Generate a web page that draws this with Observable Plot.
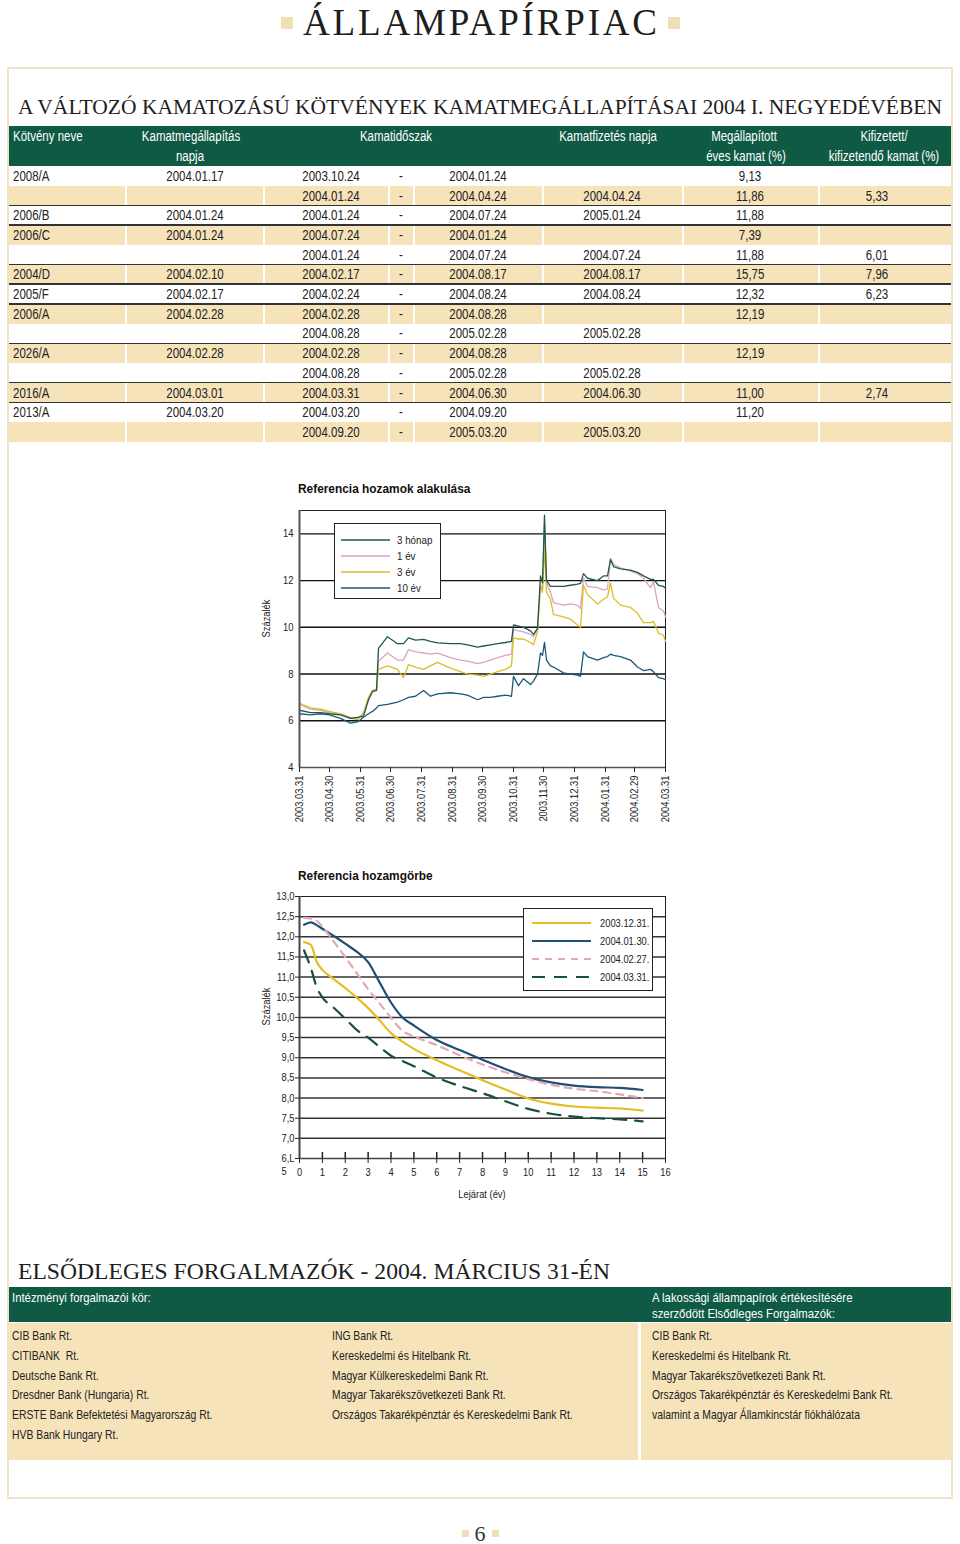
<!DOCTYPE html>
<html><head><meta charset="utf-8">
<script src="https://cdn.jsdelivr.net/npm/d3@7"></script>
<script src="https://cdn.jsdelivr.net/npm/@observablehq/plot@0.6"></script>
<style>
html,body{margin:0;padding:0;background:#fff;}
body{width:960px;height:1544px;position:relative;overflow:hidden;font-family:"Liberation Sans",Arial,sans-serif;}
.abs{position:absolute;white-space:pre;}
</style></head><body>
<script>
// ---------------- DATA ----------------
const pageTitle = "ÁLLAMPAPÍRPIAC";
const tableTitle = "A VÁLTOZÓ KAMATOZÁSÚ KÖTVÉNYEK KAMATMEGÁLLAPÍTÁSAI 2004 I. NEGYEDÉVÉBEN";
const headerRow1 = ["Kötvény neve","Kamatmegállapítás","Kamatidőszak","Kamatfizetés napja","Megállapított","Kifizetett/"];
const headerRow2 = ["napja","éves kamat (%)","kifizetendő kamat (%)"];
const bondNames   = ["2008/A","","2006/B","2006/C","","2004/D","2005/F","2006/A","","2026/A","","2016/A","2013/A",""];
const fixingDates = ["2004.01.17","","2004.01.24","2004.01.24","","2004.02.10","2004.02.17","2004.02.28","","2004.02.28","","2004.03.01","2004.03.20",""];
const periodStart = ["2003.10.24","2004.01.24","2004.01.24","2004.07.24","2004.01.24","2004.02.17","2004.02.24","2004.02.28","2004.08.28","2004.02.28","2004.08.28","2004.03.31","2004.03.20","2004.09.20"];
const periodEnd   = ["2004.01.24","2004.04.24","2004.07.24","2004.01.24","2004.07.24","2004.08.17","2004.08.24","2004.08.28","2005.02.28","2004.08.28","2005.02.28","2004.06.30","2004.09.20","2005.03.20"];
const paymentDates= ["","2004.04.24","2005.01.24","","2004.07.24","2004.08.17","2004.08.24","","2005.02.28","","2005.02.28","2004.06.30","","2005.03.20"];
const annualRates = ["9,13","11,86","11,88","7,39","11,88","15,75","12,32","12,19","","12,19","","11,00","11,20",""];
const paidRates   = ["","5,33","","","6,01","7,96","6,23","","","","","2,74","",""];

// Chart 1: Referencia hozamok alakulása
const chart1Title = "Referencia hozamok alakulása";
const series1Names = ["3 hónap","1 év","3 év","10 év"];
const dates1 = ["2003-03-31","2003-04-11","2003-04-21","2003-04-30","2003-05-11","2003-05-21","2003-05-28","2003-06-03","2003-06-08","2003-06-12","2003-06-16","2003-06-18","2003-06-27","2003-07-07","2003-07-13","2003-07-18","2003-07-25","2003-08-02","2003-08-09","2003-08-16","2003-08-29","2003-09-08","2003-09-15","2003-09-25","2003-10-01","2003-10-08","2003-10-15","2003-10-23","2003-10-29","2003-10-31","2003-11-05","2003-11-10","2003-11-17","2003-11-20","2003-11-24","2003-11-27","2003-11-29","2003-12-01","2003-12-03","2003-12-07","2003-12-10","2003-12-20","2003-12-27","2004-01-03","2004-01-06","2004-01-09","2004-01-13","2004-01-23","2004-01-29","2004-02-02","2004-02-05","2004-02-08","2004-02-15","2004-02-25","2004-03-03","2004-03-09","2004-03-16","2004-03-19","2004-03-24","2004-03-29","2004-03-31"];
const m3  = [6.45,6.35,6.35,6.3,6.25,6.1,6.15,6.2,6.9,7.25,7.3,9.1,9.6,9.3,9.3,9.55,9.45,9.48,9.4,9.33,9.3,9.3,9.25,9.15,9.2,9.25,9.3,9.35,9.4,10.1,10.05,10.0,9.85,9.7,9.95,12.2,11.9,14.8,12.0,11.75,11.75,11.75,11.8,11.85,11.88,12.3,12.1,12.0,12.2,12.2,12.9,12.6,12.5,12.45,12.35,12.2,12.05,12.05,11.8,11.75,11.67];
const y1  = [6.7,6.5,6.45,6.35,6.3,6.15,6.1,6.3,6.95,7.3,7.35,8.55,8.9,8.6,8.6,9.05,8.95,8.9,8.85,8.9,8.7,8.6,8.55,8.45,8.5,8.6,8.7,8.8,8.85,9.9,9.85,9.8,9.7,9.6,9.9,11.8,11.5,14.5,11.9,11.5,11.05,10.95,11.0,10.95,10.8,12.1,11.75,11.7,11.6,11.65,12.95,12.7,12.55,12.4,12.3,12.1,11.7,11.95,10.85,10.7,10.45];
const y3  = [6.75,6.55,6.5,6.4,6.3,6.1,6.05,6.35,7.0,7.3,7.3,8.2,8.35,8.2,7.85,8.4,8.3,8.2,8.35,8.5,8.25,8.1,8.0,7.95,7.9,8.0,8.1,8.2,8.35,9.55,9.5,9.5,9.35,9.25,9.8,11.8,11.6,13.4,11.5,11.2,10.55,10.45,10.35,10.1,10.0,11.8,11.4,11.0,11.2,11.3,11.9,11.25,10.95,10.85,10.6,10.2,10.2,10.25,9.75,9.65,9.4];
const y10 = [6.3,6.25,6.3,6.25,6.1,5.9,5.95,6.15,6.3,6.4,6.55,6.65,6.7,6.8,6.9,7.0,7.05,7.3,7.05,7.15,7.2,7.15,7.1,6.9,7.0,7.0,7.05,7.1,7.05,7.9,7.5,7.8,7.55,7.7,8.0,8.9,8.8,9.35,8.6,8.35,8.3,8.05,8.0,7.95,7.9,8.95,8.75,8.6,8.7,8.75,8.85,8.8,8.75,8.6,8.3,8.15,8.2,8.1,7.85,7.8,7.75];
const monthEnds = ["2003.03.31","2003.04.30","2003.05.31","2003.06.30","2003.07.31","2003.08.31","2003.09.30","2003.10.31","2003.11.30","2003.12.31","2004.01.31","2004.02.29","2004.03.31"];
const yTicks1 = [4,6,8,10,12,14];

// Chart 2: Referencia hozamgörbe
const chart2Title = "Referencia hozamgörbe";
const curveNames = ["2003.12.31.","2004.01.30.","2004.02.27.","2004.03.31."];
const maturities = [0.2,0.5,0.75,1,1.5,2,2.5,3,3.5,4,4.5,5,6,7,8,9,10,11,12,13,14,15];
const c20031231 = [11.87,11.8,11.38,11.18,10.95,10.73,10.49,10.23,9.93,9.61,9.4,9.22,8.94,8.69,8.44,8.21,7.99,7.86,7.79,7.76,7.74,7.69];
const c20040130 = [12.3,12.36,12.29,12.2,12.02,11.83,11.63,11.37,10.87,10.37,10.0,9.8,9.44,9.19,8.95,8.72,8.52,8.39,8.31,8.27,8.25,8.2];
const c20040227 = [12.47,12.45,12.4,12.25,11.88,11.5,11.1,10.7,10.35,9.99,9.67,9.53,9.31,9.06,8.83,8.64,8.47,8.33,8.23,8.17,8.09,8.0];
const c20040331 = [11.66,11.22,10.75,10.5,10.24,9.97,9.69,9.5,9.27,9.05,8.92,8.79,8.51,8.3,8.12,7.92,7.73,7.61,7.54,7.5,7.47,7.42];
const yTicks2 = [6.5,7,7.5,8,8.5,9,9.5,10,10.5,11,11.5,12,12.5,13];
const xTicks2 = [0,1,2,3,4,5,6,7,8,9,10,11,12,13,14,15,16];

// Elsődleges forgalmazók
const dealersTitle = "ELSŐDLEGES FORGALMAZÓK - 2004. MÁRCIUS 31-ÉN";
const dealersHeadLeft = "Intézményi forgalmazói kör:";
const dealersHeadRight = ["A lakossági állampapírok értékesítésére","szerződött Elsődleges Forgalmazók:"];
const dealersCol1 = ["CIB Bank Rt.","CITIBANK  Rt.","Deutsche Bank Rt.","Dresdner Bank (Hungaria) Rt.","ERSTE Bank Befektetési Magyarország Rt.","HVB Bank Hungary Rt."];
const dealersCol2 = ["ING Bank Rt.","Kereskedelmi és Hitelbank Rt.","Magyar Külkereskedelmi Bank Rt.","Magyar Takarékszövetkezeti Bank Rt.","Országos Takarékpénztár és Kereskedelmi Bank Rt."];
const dealersCol3 = ["CIB Bank Rt.","Kereskedelmi és Hitelbank Rt.","Magyar Takarékszövetkezeti Bank Rt.","Országos Takarékpénztár és Kereskedelmi Bank Rt.","valamint a Magyar Államkincstár fiókhálózata"];
const pageNumber = "6";

// ---------------- HELPERS ----------------
const SANS = '"Liberation Sans",Arial,sans-serif';
const SERIF = '"Liberation Serif","DejaVu Serif",serif';
const GREEN = "#0f5a44", BEIGE = "#f6e3ba", SQ = "#efdfb4";
const body = document.body;
function rect(x,y,w,h,fill,extra=""){const d=document.createElement("div");d.className="abs";d.style.cssText+=`left:${x}px;top:${y}px;width:${w}px;height:${h}px;background:${fill};${extra}`;body.appendChild(d);return d;}
function text(str,x,y,{align="left",size=14,color="#222",weight="normal",family=SANS,sx=0.82,rot=null}={}){
  const d=document.createElement("div");d.className="abs";d.textContent=str;
  d.style.cssText+=`font-size:${size}px;line-height:${size}px;top:${y-size/2}px;color:${color};font-weight:${weight};font-family:${family};`;
  const sc=sx===1?"":` scaleX(${sx})`;
  if(align==="left"){d.style.left=x+"px";d.style.transformOrigin="left center";d.style.transform=sc;}
  else if(align==="center"){d.style.left=x+"px";d.style.transformOrigin="center center";d.style.transform=`translateX(-50%)${rot?` rotate(${rot}deg)`:""}${sc}`;}
  else {d.style.right=(960-x)+"px";d.style.transformOrigin="right center";d.style.transform=sc;}
  body.appendChild(d);return d;}
// serif heading fitted to a given span: shrink if too wide, otherwise letter-space out
function heading(str,x,baseline,target,size){
  const d=document.createElement("div");d.className="abs";d.textContent=str;
  d.style.cssText+=`left:${x}px;font-family:${SERIF};font-size:${size}px;line-height:1;color:#1e1e1e;`;
  body.appendChild(d);
  let w=d.getBoundingClientRect().width;
  if(w>target){size=size*target/w;d.style.fontSize=size+"px";w=d.getBoundingClientRect().width;}
  const ls=Math.max(0,(target-w)/(str.length-1));
  d.style.letterSpacing=ls+"px";
  d.style.top=(baseline-0.8375*size)+"px";
  return d;}
function squeeze(root,f){root.querySelectorAll("text").forEach(t=>{const L=t.getComputedTextLength();if(L>0){t.setAttribute("textLength",(L*f).toFixed(2));t.setAttribute("lengthAdjust","spacingAndGlyphs");}});}

// ---------------- PAGE TITLE ----------------
rect(281,17,12,12,SQ); rect(668,17,12,12,SQ);
heading(pageTitle,303,35,354,37);

// outer frame
rect(7,67,942,1428,"transparent","border:2px solid #efe5c6;");

// ---------------- TABLE ----------------
heading(tableTitle,18,115,924,26);
rect(9,126,942,40,GREEN);
const hdr={color:"#fff",size:14};
text(headerRow1[0],13,136,hdr);
text(headerRow1[1],191,136,{...hdr,align:"center"});
text(headerRow1[2],396,136,{...hdr,align:"center"});
text(headerRow1[3],608,136,{...hdr,align:"center"});
text(headerRow1[4],744,136,{...hdr,align:"center"});
text(headerRow1[5],884,136,{...hdr,align:"center"});
text(headerRow2[0],190,156,{...hdr,align:"center"});
text(headerRow2[1],746,156,{...hdr,align:"center"});
text(headerRow2[2],884,156,{...hdr,align:"center"});

const cols=[[9,125],[127,263],[265,388],[390,413],[415,542],[544,682],[684,818],[820,951]];
const rowTop=166,rowH=19.7;
const groupStarts=[2,3,5,6,7,9,11,12];
bondNames.forEach((name,i)=>{
  const top=rowTop+i*rowH, cy=top+rowH/2;
  if(i%2===1) cols.forEach(([a,b])=>rect(a,top,b-a,rowH,BEIGE));
  if(groupStarts.includes(i)) rect(9,top-0.75,942,1.5,"#333");
  text(name,13,cy);
  text(fixingDates[i],195,cy,{align:"center"});
  text(periodStart[i],331,cy,{align:"center"});
  text("-",401,cy,{align:"center"});
  text(periodEnd[i],478,cy,{align:"center"});
  text(paymentDates[i],612,cy,{align:"center"});
  text(annualRates[i],750,cy,{align:"center"});
  text(paidRates[i],877,cy,{align:"center"});
});

// ---------------- CHART 1 ----------------
const parseD=d3.utcParse("%Y-%m-%d"), parseT=d3.utcParse("%Y.%m.%d"), fmtT=d3.utcFormat("%Y.%m.%d");
const colors1={"3 hónap":"#1d5a4c","1 év":"#d9a5c0","3 év":"#ddbf25","10 év":"#1c5877"};
const vals1={"3 hónap":m3,"1 év":y1,"3 év":y3,"10 év":y10};
const drawOrder1=["1 év","3 év","3 hónap","10 év"];
const monthTicks=monthEnds.map(parseT);
const ch1=Plot.plot({
  width:430,height:330,marginLeft:49,marginRight:15,marginTop:10,marginBottom:63,
  style:{fontFamily:SANS,fontSize:"11px",color:"#222",background:"transparent",overflow:"visible"},
  x:{type:"utc",domain:[monthTicks[0],monthTicks[monthTicks.length-1]]},
  y:{domain:[4,15]},
  marks:[
    Plot.ruleY(yTicks1.filter(d=>d>4),{stroke:"#111",strokeWidth:1.4}),
    Plot.frame({stroke:"#222",strokeWidth:1}),
    ...drawOrder1.map(s=>Plot.line(dates1.map((d,i)=>({date:parseD(d),v:vals1[s][i]})),{x:"date",y:"v",stroke:colors1[s],strokeWidth:1.3})),
    Plot.ruleX([monthTicks[0]],{stroke:"#555",strokeWidth:2}),
    Plot.ruleY([4],{stroke:"#555",strokeWidth:1.5}),
    Plot.axisY({ticks:yTicks1,tickSize:0,tickPadding:6,label:null}),
    Plot.axisX({ticks:monthTicks,tickSize:5,tickPadding:3,tickRotate:-90,tickFormat:fmtT,label:null})
  ]
});
const w1=document.createElement("div");w1.className="abs";w1.style.cssText+="left:250px;top:500px;";w1.appendChild(ch1);body.appendChild(w1);
squeeze(ch1,0.85);
text(chart1Title,298,489,{size:13.5,weight:"bold",color:"#111",sx:0.88});
text("Százalék",266,618,{align:"center",size:11,sx:0.85,rot:-90});
// legend 1
(function(){const d=document.createElement("div");d.className="abs";d.style.cssText+="left:334px;top:523px;";
 let s=`<svg width="140" height="76" style="display:block;overflow:visible"><rect x="0.5" y="0.5" width="106" height="75" fill="#fff" stroke="#222"/>`;
 series1Names.forEach((n,i)=>{const y=17+i*16;s+=`<line x1="7" x2="56" y1="${y}" y2="${y}" stroke="${colors1[n]}" stroke-width="1.5"/><text x="63" y="${y+4}" font-family='${SANS}' font-size="11.5" fill="#222">${n}</text>`;});
 d.innerHTML=s+"</svg>";body.appendChild(d);squeeze(d,0.85);})();

// ---------------- CHART 2 ----------------
const curves=[
  {name:curveNames[0],vals:c20031231,stroke:"#e4be22",dash:null},
  {name:curveNames[1],vals:c20040130,stroke:"#1f4e76",dash:null},
  {name:curveNames[2],vals:c20040227,stroke:"#e3a9b3",dash:"7,6"},
  {name:curveNames[3],vals:c20040331,stroke:"#17513f",dash:"13,9"}];
const fmt2=d=>d===6.5?"6,L":d.toFixed(1).replace(".",",");
const ch2=Plot.plot({
  width:430,height:300,marginLeft:49,marginRight:15,marginTop:10,marginBottom:28,
  style:{fontFamily:SANS,fontSize:"11px",color:"#222",background:"transparent",overflow:"visible"},
  x:{domain:[0,16]},y:{domain:[6.5,13]},
  marks:[
    Plot.ruleY(yTicks2.filter(d=>d>6.5&&d<13),{stroke:"#333",strokeWidth:1.5}),
    Plot.frame({stroke:"#222",strokeWidth:1}),
    Plot.tickX(xTicks2.filter(d=>d>0&&d<16),{x:d=>d,insetTop:256,stroke:"#222",strokeWidth:1.5}),
    ...curves.map(c=>Plot.line(maturities.map((m,i)=>({m,v:c.vals[i]})),{x:"m",y:"v",stroke:c.stroke,strokeWidth:2.2,strokeDasharray:c.dash,curve:"monotone-x"})),
    Plot.ruleX([0],{stroke:"#444",strokeWidth:2}),
    Plot.ruleY([6.5],{stroke:"#444",strokeWidth:1.5}),
    Plot.axisY({ticks:yTicks2,tickSize:4,tickPadding:1,tickFormat:fmt2,label:null}),
    Plot.axisX({ticks:xTicks2,tickSize:5,tickPadding:5,label:null})
  ]
});
const w2=document.createElement("div");w2.className="abs";w2.style.cssText+="left:250px;top:886px;";w2.appendChild(ch2);body.appendChild(w2);
squeeze(ch2,0.85);
text(chart2Title,298,876,{size:13.5,weight:"bold",color:"#111",sx:0.88});
text("5",284,1171,{align:"center",size:11,sx:0.85});
text("Lejárat (év)",482,1194,{align:"center",size:11,sx:0.85});
text("Százalék",266,1006,{align:"center",size:11,sx:0.85,rot:-90});
(function(){const d=document.createElement("div");d.className="abs";d.style.cssText+="left:523px;top:908px;";
 let s=`<svg width="170" height="83" style="display:block;overflow:visible"><rect x="0.5" y="0.5" width="129" height="82" fill="#fff" stroke="#222"/>`;
 curves.forEach((c,i)=>{const y=15+i*18;s+=`<line x1="9" x2="68" y1="${y}" y2="${y}" stroke="${c.stroke}" stroke-width="2.2" ${c.dash?`stroke-dasharray="${c.dash}"`:""}/><text x="77" y="${y+4}" font-family='${SANS}' font-size="11" fill="#222">${c.name}</text>`;});
 d.innerHTML=s+"</svg>";body.appendChild(d);squeeze(d,0.85);})();

// ---------------- DEALERS ----------------
heading(dealersTitle,18,1280,592,24);
rect(9,1287,942,35,GREEN);
text(dealersHeadLeft,12,1298,{color:"#fff",size:13.5,sx:0.84});
text(dealersHeadRight[0],652,1298,{color:"#fff",size:13.5,sx:0.84});
text(dealersHeadRight[1],652,1314,{color:"#fff",size:13.5,sx:0.84});
rect(9,1323,629,137,BEIGE); rect(641,1323,310,137,BEIGE);
const rowsY=[1336,1356,1376,1395,1415,1435];
const dOpt={size:13.5,sx:0.77};
dealersCol1.forEach((s,i)=>text(s,12,rowsY[i],dOpt));
dealersCol2.forEach((s,i)=>text(s,332,rowsY[i],dOpt));
dealersCol3.forEach((s,i)=>text(s,652,rowsY[i],dOpt));

// page number
rect(462,1530,7,7,SQ); rect(492,1530,7,7,SQ);
text(pageNumber,480,1534,{align:"center",size:22,family:SERIF,color:"#333",sx:1});
</script>
</body></html>
